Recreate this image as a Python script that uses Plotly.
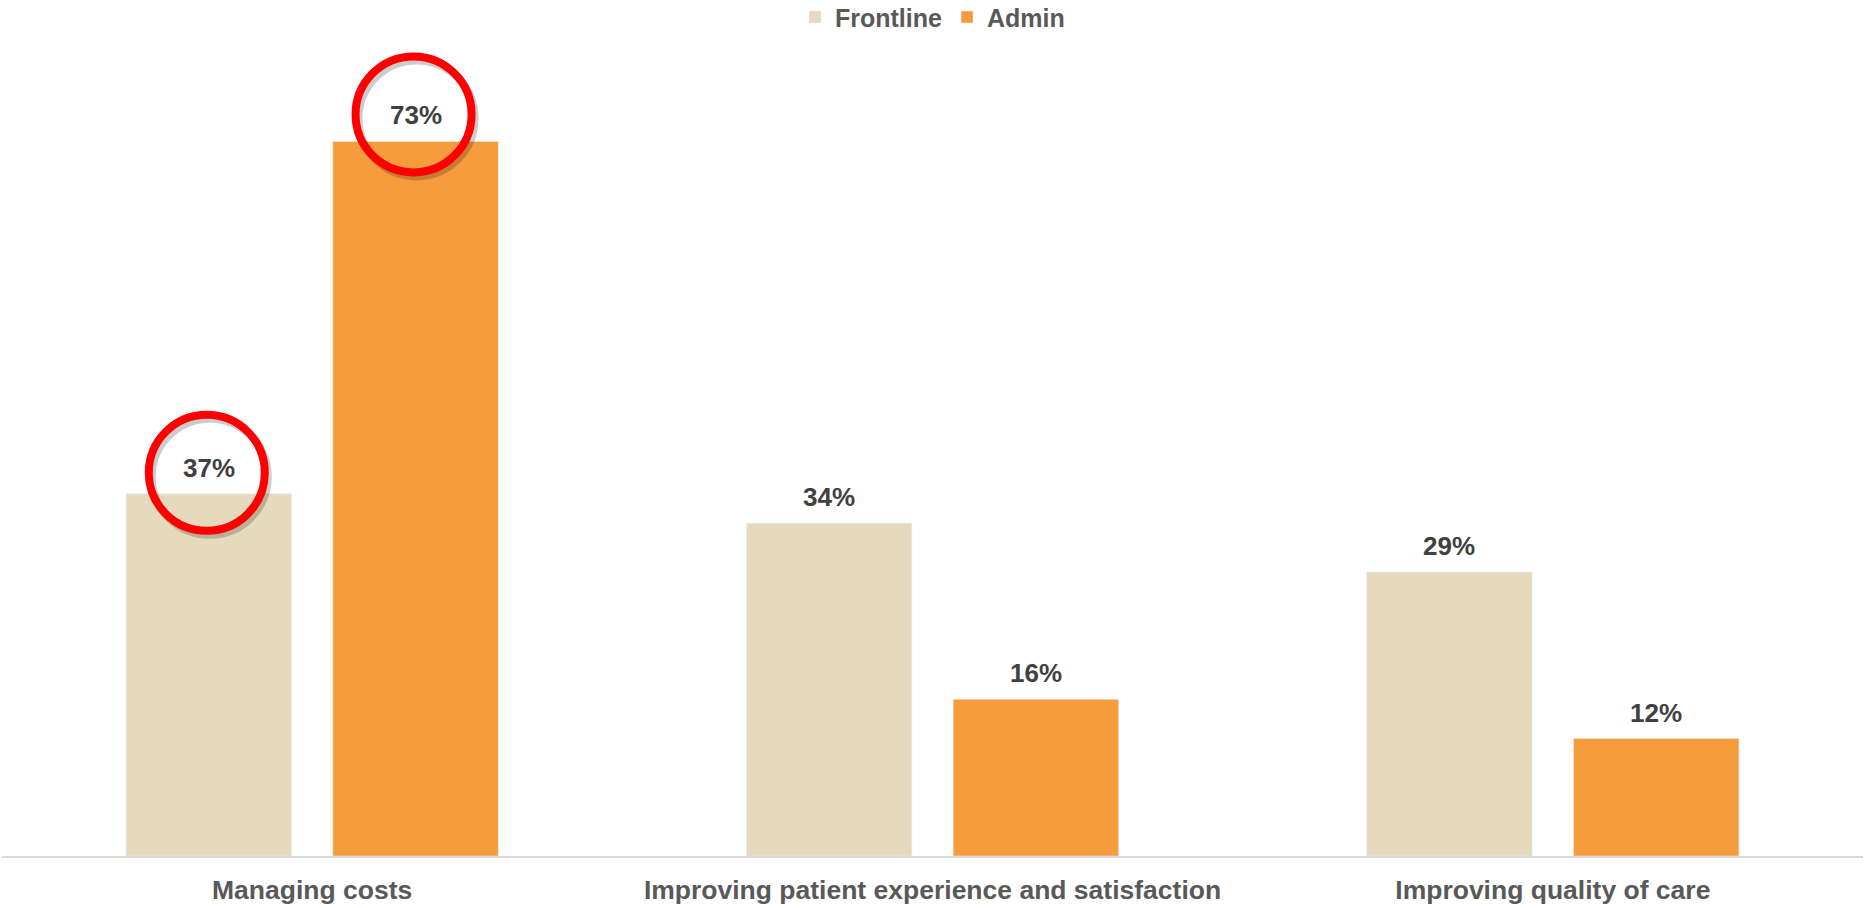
import plotly.graph_objects as go

categories = ["Managing costs", "Improving patient experience and satisfaction", "Improving quality of care"]
frontline = [37, 34, 29]
admin = [73, 16, 12]
series_names = ["Frontline", "Admin"]
highlighted = [("Frontline", 0), ("Admin", 0)]  # labels circled in red

COL_FRONT = "#E5DBBC"
COL_ADMIN = "#F79C3D"
FONT = "Liberation Sans, Arial, sans-serif"
BARGAP = 1 / 3
BARGROUPGAP = 0.2

fig = go.Figure()
fig.add_trace(go.Bar(name=series_names[0], x=categories, y=frontline, marker_color=COL_FRONT))
fig.add_trace(go.Bar(name=series_names[1], x=categories, y=admin, marker_color=COL_ADMIN))

offset = (1 - BARGAP) / 4
series_vals = {"Frontline": frontline, "Admin": admin}
series_off = {"Frontline": -offset, "Admin": offset}

annotations = []
for name, vals in series_vals.items():
    for i, v in enumerate(vals):
        annotations.append(dict(
            x=i + series_off[name], y=v, xref="x", yref="y",
            text=f"{v}%", showarrow=False, yanchor="middle", yshift=26,
            font=dict(family=FONT, size=26, color="#404040", weight="bold"),
        ))

shapes = []
R = 58
for name, i in highlighted:
    v = series_vals[name][i]
    cy = 26 - (5 if name == "Frontline" else -1)
    for dx, dy, col in [(3, -4, "rgba(0,0,0,0.2)"), (0, 0, "#FF0000")]:
        shapes.append(dict(
            type="circle", xref="x", yref="y",
            xsizemode="pixel", ysizemode="pixel",
            xanchor=i + series_off[name], yanchor=v,
            x0=-R - 2 + dx, x1=R - 2 + dx, y0=cy - R + dy, y1=cy + R + dy,
            line=dict(color=col, width=8), layer="above",
        ))

fig.update_layout(
    width=1865, height=908,
    barmode="group", bargap=BARGAP, bargroupgap=BARGROUPGAP,
    plot_bgcolor="white", paper_bgcolor="white",
    margin=dict(l=2, r=2, t=20, b=52, autoexpand=False),
    font=dict(family=FONT, color="#595959"),
    legend=dict(orientation="h", x=0.5, xanchor="center", y=0.981, yref="container", yanchor="middle",
                font=dict(family=FONT, size=25, color="#595959", weight="bold"), itemclick=False,
                traceorder="normal"),
    annotations=annotations, shapes=shapes,
    xaxis=dict(showline=True, linecolor="#D9D9D9", linewidth=2, ticks="",
               tickfont=dict(family=FONT, size=26.5, color="#595959", weight="bold"),
               ticklabelstandoff=9, automargin=False),
    yaxis=dict(visible=False, range=[0, 85.4], showgrid=False, zeroline=False),
)

fig.write_html("out.html", config={"displayModeBar": False},
               post_script="document.body.style.margin='0';")
